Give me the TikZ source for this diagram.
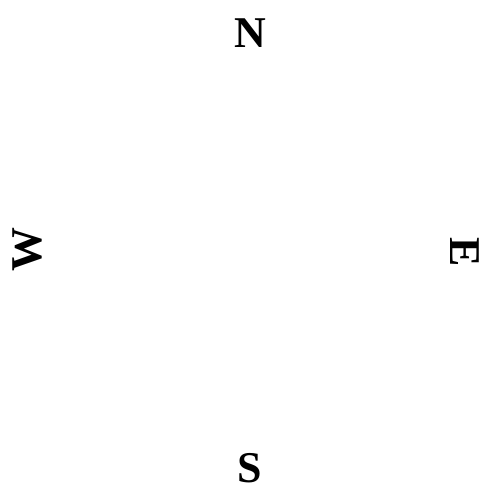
\documentclass[tikz,border=0pt]{standalone}
\usepackage{fontspec}
\setmainfont{Liberation Serif}
\usepackage{tikz}
\usetikzlibrary{positioning}

\begin{document}
\begin{tikzpicture}[
				dirlabel/.style={inner sep=0pt, font=\fontsize{25}{30}\selectfont\bfseries}
				]
				\useasboundingbox (-5,-5) rectangle (5,5);
				
				% Compass letters
				\node[dirlabel] (north) at (0, 4.34) {N};
				\node[dirlabel] (south) at (0, -4.36) {S};
				\node[dirlabel, rotate=90] (west) at (-4.46, 0) {W};
				\node[dirlabel, rotate=-90] (east) at (4.3, -0.04) {E};
			\end{tikzpicture}
\end{document}
